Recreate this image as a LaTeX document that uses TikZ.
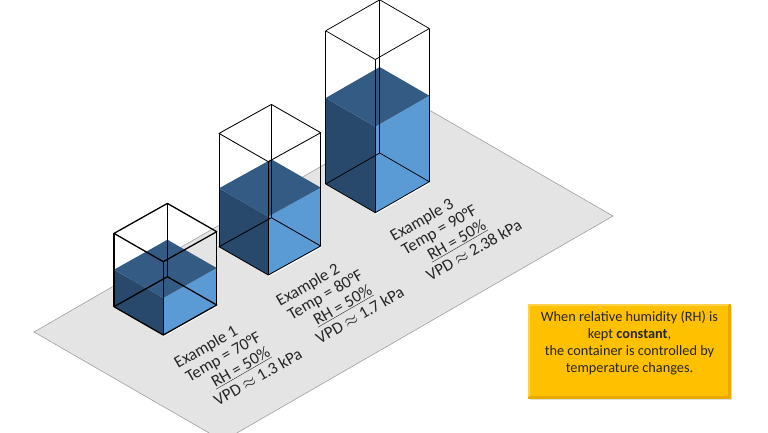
\documentclass[tikz,border=0pt]{standalone}
\usepackage{fontspec}
\newfontfamily\calib{Carlito}
\usetikzlibrary{calc,shadows}
\definecolor{floorgray}{HTML}{E4E4E4}
\definecolor{floorline}{HTML}{A0A0A0}
\definecolor{wleft}{HTML}{29496C}
\definecolor{wtop}{HTML}{335B83}
\definecolor{wright}{HTML}{5B9BD5}
\definecolor{gold}{HTML}{FFC000}
\definecolor{goldedge}{HTML}{E6AA00}
\definecolor{goldlight}{HTML}{FFD24A}
\definecolor{golddark}{HTML}{E9A900}
\definecolor{txt}{HTML}{262626}
\newcommand\waterbox[7]{%
  \coordinate (#1bf) at (#2);
  \coordinate (#1bl) at ($(#1bf)+(#3)$);
  \coordinate (#1br) at ($(#1bf)+(#4)$);
  \coordinate (#1bb) at ($(#1bl)+(#4)$);
  \coordinate (#1tf) at ($(#1bf)+(0,-#5)$);
  \coordinate (#1tl) at ($(#1bl)+(0,-#5)$);
  \coordinate (#1tr) at ($(#1br)+(0,-#5)$);
  \coordinate (#1tb) at ($(#1bb)+(0,-#5)$);
  \coordinate (#1wf) at ($(#1bf)+(0,-#6)$);
  \coordinate (#1wl) at ($(#1bl)+(0,-#6)$);
  \coordinate (#1wr) at ($(#1br)+(0,-#6)$);
  \coordinate (#1wb) at ($(#1bb)+(0,-#6)$);
  \fill[wleft] (#1bl) -- (#1bf) -- (#1wf) -- (#1wl) -- cycle;
  \fill[wright] (#1bf) -- (#1br) -- (#1wr) -- (#1wf) -- cycle;
  \fill[wtop] (#1wl) -- (#1wf) -- (#1wr) -- (#1wb) -- cycle;
  \draw[white, line width=1pt] ($(#1bf)+(0,1.4)$) -- ($(#1br)+(0,1.4)$);
  \draw[boxedge, line width=#7] (#1bl) -- (#1bf) -- (#1br) -- (#1bb) -- cycle;
  \draw[boxedge, line width=#7] (#1tl) -- (#1tf) -- (#1tr) -- (#1tb) -- cycle;
  \draw[boxedge, line width=#7] (#1bl) -- (#1tl) (#1bf) -- (#1tf) (#1br) -- (#1tr) (#1bb) -- (#1tb);
}
\begin{document}
\begin{tikzpicture}[x=1pt,y=-1pt,
  floorstyle/.style={fill=floorgray, draw=floorline, line width=0.6pt},
  boxedge/.style={draw=black, line join=round},
  lbl/.style={font=\calib\fontsize{16.8}{20}\selectfont, text=txt, rotate=30, inner sep=0pt, anchor=base},
  ybox/.style={rectangle, fill=gold, draw=goldedge, line width=0.8pt, minimum width=202pt, minimum height=94pt, inner sep=0pt,
     drop shadow={shadow xshift=1.5pt, shadow yshift=-1.5pt, opacity=0.25}},
  ytext/.style={font=\calib\fontsize{14.3}{17}\selectfont, text=txt, align=center, inner sep=0pt}]
\useasboundingbox (0,0) rectangle (768,432);
\fill[white] (0,0) rectangle (768,432);
\begin{scope}
  \clip (0,0) rectangle (768,432);
  \draw[floorstyle] (34,332) -- (424,107) -- (613,216) -- (223,441) -- cycle;
\end{scope}
% containers
\waterbox{a}{163.3,335}{-49.3,-28.3}{53.4,-30}{73.3}{37}{1.3pt}
\waterbox{b}{268.3,275}{-49.3,-28.3}{52.4,-29}{113.3}{58.4}{0.85pt}
\waterbox{c}{375.3,212.7}{-49.6,-28.7}{54,-31}{153.2}{86}{0.75pt}
% labels
\node[lbl] (e1a) at (208.5,351.3) {Example 1};
\node[lbl] (e1b) at (225.9,361.5) {Temp = 70°F};
\node[lbl] (e1c) at (243.3,371.7) {\underline{RH = 50\%}};
\node[lbl] (e1d) at (260.7,381.9) {VPD \ensuremath{\approx} 1.3 kPa};
\node[lbl] (e2a) at (310.5,289.3) {Example 2};
\node[lbl] (e2b) at (327.9,299.5) {Temp = 80°F};
\node[lbl] (e2c) at (345.3,309.7) {\underline{RH = 50\%}};
\node[lbl] (e2d) at (362.7,319.9) {VPD \ensuremath{\approx} 1.7 kPa};
\node[lbl] (e3a) at (424.5,224.3) {Example 3};
\node[lbl] (e3b) at (441.9,234.5) {Temp = 90°F};
\node[lbl] (e3c) at (459.3,244.7) {\underline{RH = 50\%}};
\node[lbl] (e3d) at (476.7,254.9) {VPD \ensuremath{\approx} 2.38 kPa};
% note box
\node[ybox] (note) at (629,351) {};
\draw[goldlight, line width=1.6pt]
  ([xshift=1.4pt,yshift=1.4pt]note.south west) -- ([xshift=1.4pt,yshift=-1.4pt]note.north west)
  -- ([xshift=-1.4pt,yshift=-1.4pt]note.north east);
\draw[golddark, line width=1.6pt]
  ([xshift=-1.4pt,yshift=-1.4pt]note.north east) -- ([xshift=-1.4pt,yshift=1.4pt]note.south east)
  -- ([xshift=1.4pt,yshift=1.4pt]note.south west);
\node[ytext] (notetext) at (629.5,343) {When relative humidity (RH) is\\kept \textbf{constant},\\the container is controlled by\\temperature changes.};
\end{tikzpicture}
\end{document}
